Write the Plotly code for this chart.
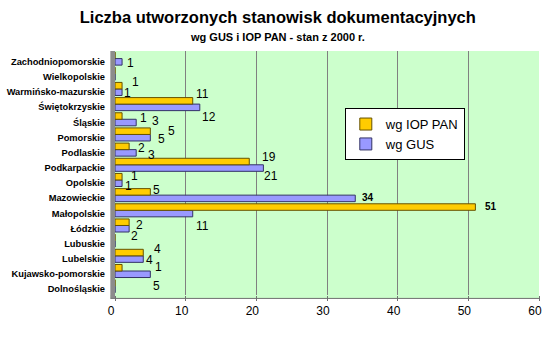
import plotly.graph_objects as go

regions = ["Dolnośląskie", "Kujawsko-pomorskie", "Lubelskie", "Lubuskie", "Łódzkie",
           "Małopolskie", "Mazowieckie", "Opolskie", "Podkarpackie", "Podlaskie",
           "Pomorskie", "Śląskie", "Świętokrzyskie", "Warmińsko-mazurskie",
           "Wielkopolskie", "Zachodniopomorskie"]
iop_pan = [0, 1, 4, 0, 2, 51, 5, 1, 19, 2, 5, 1, 11, 1, 0, 0]
gus = [0, 5, 4, 0, 2, 11, 34, 1, 21, 3, 5, 3, 12, 1, 0, 1]
x_ticks = [0, 10, 20, 30, 40, 50, 60]

# label pixel offsets (style only), same order as regions
iop_dx = [0, 36, 14, 0, 10, 16, 6, 12, 20, 12, 21, 21, 10, 13, 0, 0]
iop_dy = [0, 4, 7, 0, 0, 4, 5, 3.5, 8, 2, 3, 1.5, 10, 7, 0, 0]
gus_dx = [0, 6, 6, 0, 5, 10, 13, 6, 7.5, 15, 11, 19, 9, 5, 0, 8]
gus_dy = [0, -15, -4, 0, -11, -16, -2, -6.5, -11, -5, -5, -1.5, -13, -4, 0, -4.5]

FONT = "Liberation Sans, Arial"
IOP_COLOR = "#FFCC00"
GUS_COLOR = "#9999FF"

fig = go.Figure()
fig.add_trace(go.Bar(
    y=regions, x=gus, orientation="h", name="wg GUS",
    legendrank=2,
    marker=dict(color=GUS_COLOR, line=dict(color="#333366", width=1)),
))
fig.add_trace(go.Bar(
    y=regions, x=iop_pan, orientation="h", name="wg IOP PAN",
    legendrank=1,
    marker=dict(color=IOP_COLOR, line=dict(color="#665200", width=1)),
))

annotations = []
for vals, dxs, dys in ((iop_pan, iop_dx, iop_dy), (gus, gus_dx, gus_dy)):
    for reg, v, dx, dy in zip(regions, vals, dxs, dys):
        if not v:
            continue
        big = v >= 30
        annotations.append(dict(
            x=v, y=reg, xref="x", yref="y", text=f"<b>{v}</b>" if big else str(v),
            showarrow=False, xanchor="center", yanchor="middle",
            xshift=dx, yshift=dy,
            font=dict(size=10 if big else 12, family=FONT, color="black"),
        ))

annotations.append(dict(
    text="<b>wg GUS i IOP PAN - stan z 2000 r.</b>",
    xref="paper", yref="paper", x=0.384, y=1, yshift=14,
    xanchor="center", yanchor="middle", showarrow=False,
    font=dict(size=11, family=FONT),
))

shapes = [
    # left wall (3D effect)
    dict(type="rect", xref="paper", yref="paper", x0=-0.011, x1=0, y0=-0.012, y1=1,
         fillcolor="#8C8C8C", line=dict(width=0), layer="above"),
    # floor
    dict(type="rect", xref="paper", yref="paper", x0=-0.011, x1=1, y0=-0.014, y1=0,
         fillcolor="#CCFFCC", line=dict(width=0), layer="below"),
    dict(type="line", xref="paper", yref="paper", x0=-0.011, x1=1, y0=-0.014, y1=-0.014,
         line=dict(color="#707070", width=1)),
]

fig.update_layout(
    width=550, height=342,
    margin=dict(l=115, r=11, t=51, b=47, autoexpand=False),
    paper_bgcolor="white", plot_bgcolor="#CCFFCC",
    barmode="group", bargap=0.14, bargroupgap=0,
    font=dict(family=FONT, color="black"),
    title=dict(
        text="<b>Liczba utworzonych stanowisk dokumentacyjnych</b>",
        x=0.384, xanchor="center", xref="paper", y=1 - 17 / 342, yanchor="middle",
        font=dict(size=16.5, family=FONT),
    ),
    annotations=annotations,
    shapes=shapes,
    legend=dict(
        x=0.542, y=0.766, xanchor="left", yanchor="top",
        bgcolor="white", bordercolor="black", borderwidth=1,
        traceorder="normal",
        font=dict(size=13, family=FONT),
        itemwidth=30,
    ),
    showlegend=True,
)
fig.update_xaxes(
    range=[0, 60], tickvals=x_ticks, showgrid=True, gridcolor="#808080", gridwidth=1,
    zeroline=False, showline=False, ticks="outside",
    ticklen=5, tickcolor="#707070", automargin=False, ticklabelshift=-4,
    tickfont=dict(size=12, family=FONT),
)
fig.update_yaxes(
    categoryorder="array", categoryarray=regions, automargin=False,
    showline=False, ticks="", ticklabelstandoff=9, ticklabelshift=3,
    tickfont=dict(size=9.3, family=FONT, weight="bold"),
)

fig.write_html("out.html")
